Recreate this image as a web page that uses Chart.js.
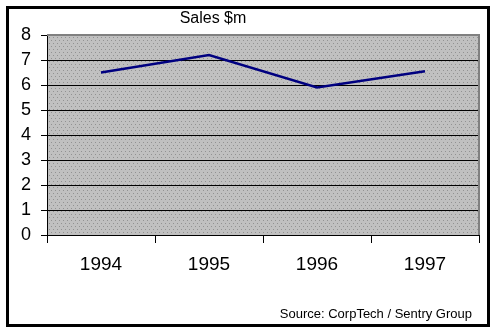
<!DOCTYPE html>
<html>
<head>
<meta charset="utf-8">
<script src="https://cdn.jsdelivr.net/npm/chart.js@4"></script>
<style>
  html, body { margin: 0; padding: 0; background: #fff; }
  #wrap { width: 496px; height: 333px; }
</style>
</head>
<body>
<div id="wrap"><canvas id="myChart" width="496" height="333"></canvas></div>
<script>
var years = ['1994', '1995', '1996', '1997'];
var sales = [6.5, 7.2, 5.9, 6.55];
var yTicks = [0, 1, 2, 3, 4, 5, 6, 7, 8];
var titleText = 'Sales $m';
var sourceText = 'Source: CorpTech / Sentry Group';

var ctx = document.getElementById('myChart').getContext('2d');

// dotted grey fill like the old spreadsheet plot area
function makePattern(){
    let c = document.createElement('canvas')
    c.width = 12; c.height = 6
    let p = c.getContext('2d')
    p.fillStyle = '#c0c0c0'
    p.fillRect(0, 0, 12, 6)
    p.fillStyle = '#929292'
    ;[[1,1],[5,1],[9,1],[3,4],[7,4],[11,4]].forEach(d => p.fillRect(d[0], d[1], 1, 1))
    return ctx.createPattern(c, 'repeat')
}
var dots = makePattern()

var frame = {
    id: 'frame',
    beforeDraw(chart){
        let a = chart.chartArea, g = chart.ctx
        g.save()
        g.fillStyle = '#fff'
        g.fillRect(0, 0, chart.width, chart.height)
        g.fillStyle = dots
        g.fillRect(a.left, a.top, a.right - a.left, a.bottom - a.top)
        g.restore()
    },
    afterDraw(chart){
        let a = chart.chartArea, g = chart.ctx
        g.save()
        // grey edge top and right of plot area
        g.strokeStyle = '#808080'
        g.lineWidth = 2
        g.beginPath()
        g.moveTo(a.left, a.top)
        g.lineTo(a.right, a.top)
        g.lineTo(a.right, a.bottom)
        g.stroke()
        // outer black box
        g.strokeStyle = '#000'
        g.lineWidth = 3
        g.strokeRect(7.5, 7.5, 481, 318)
        // texts
        g.fillStyle = '#000'
        g.textBaseline = 'alphabetic'
        g.font = '16px "Liberation Sans", Arial, sans-serif'
        g.textAlign = 'center'
        g.fillText(titleText, 213, 23)
        g.font = '13px "Liberation Sans", Arial, sans-serif'
        g.textAlign = 'right'
        g.fillText(sourceText, 472, 318)
        g.restore()
    }
}

var myChart = new Chart(ctx, {
    type: 'line',
    data: {
        labels: years,
        datasets: [{
            label: titleText,
            data: sales,
            borderColor: '#000080',
            borderWidth: 2.5,
            pointRadius: 0,
            tension: 0,
            fill: false
        }]
    },
    options: {
        responsive: false,
        animation: false,
        layout: { padding: { left: 0, top: 35, right: 17, bottom: 58 } },
        plugins: {
            legend: { display: false },
            tooltip: { enabled: false }
        },
        scales: {
            x: {
                offset: true,
                grid: { offset: true, drawOnChartArea: false, color: '#000', tickLength: 8 },
                border: { display: true, color: '#000', width: 1 },
                ticks: { color: '#000', padding: 10, maxRotation: 0,
                    font: { family: '"Liberation Sans", Arial, sans-serif', size: 19 } },
                afterFit(s){ s.height = 40 }
            },
            y: {
                min: 0,
                max: 8,
                afterBuildTicks(s){ s.ticks = yTicks.map(v => ({ value: v })) },
                grid: { color: '#000', lineWidth: 1, tickLength: 6 },
                border: { display: true, color: '#000', width: 1 },
                ticks: { color: '#000', padding: 10,
                    font: { family: '"Liberation Sans", Arial, sans-serif', size: 18 } },
                afterFit(s){ s.width = 47 }
            }
        }
    },
    plugins: [frame]
});
</script>
</body>
</html>
